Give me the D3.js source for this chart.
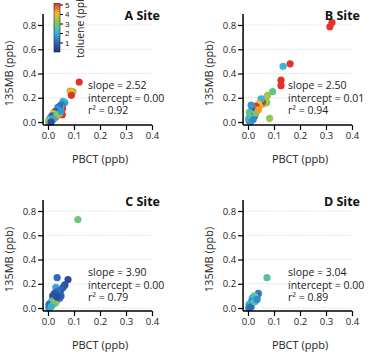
<!DOCTYPE html>
<html><head><meta charset="utf-8">
<script src="https://cdn.jsdelivr.net/npm/d3@7"></script>
<style>body{margin:0;background:#fff}svg{display:block}text{font-family:"Open Sans","Noto Sans",sans-serif}</style>
</head><body>
<svg id="c" width="370" height="353"></svg>
<script>
const sites = ["A Site","B Site","C Site","D Site"];
const slopes = ["2.52","2.50","3.90","3.04"];
const intercepts = ["0.00","0.01","0.00","0.00"];
const r2s = ["0.92","0.94","0.79","0.89"];
const xTicks = [0,0.1,0.2,0.3,0.4];
const yTicks = [0,0.2,0.4,0.6,0.8];
const cbTicks = [1,2,3,4,5];

// [PBCT, 135MB, toluene]
const dataA = [[0.120,0.33,5],[0.096,0.25,3.2],[0.085,0.255,4.2],[0.088,0.245,3.8],[0.090,0.22,5],[0.055,0.06,5],[0.056,0.11,5],
[0.065,0.16,1.8],[0.058,0.17,2],[0.055,0.15,1.5],[0.050,0.14,1.2],[0.048,0.12,3],[0.045,0.13,1],[0.042,0.11,0.8],[0.040,0.09,2.5],
[0.038,0.12,1.2],[0.035,0.10,1.8],[0.033,0.08,3.5],[0.030,0.09,1],[0.028,0.07,2.2],[0.026,0.06,3],[0.025,0.08,0.7],[0.022,0.05,1.5],
[0.020,0.07,4],[0.018,0.04,2],[0.016,0.05,1],[0.015,0.03,3],[0.012,0.04,0.8],[0.010,0.02,2.5],[0.008,0.03,1.3],[0.006,0.01,0.6],
[0.005,0.02,2],[0.004,0.00,1],[0.003,0.01,3],[0.030,0.04,4.5],[0.035,0.06,2.8],[0.045,0.07,3.2],[0.050,0.09,1.6],[0.020,0.02,1.8],[0.012,0.00,0.5]];
const dataB = [[0.323,0.82,5],[0.315,0.785,5],[0.162,0.48,5],[0.135,0.46,2],[0.127,0.345,5],[0.127,0.30,5],[0.095,0.25,2.6],[0.083,0.03,3.2],
[0.075,0.22,3.2],[0.070,0.20,3.4],[0.072,0.16,3],[0.065,0.18,3.3],[0.060,0.15,3.1],[0.055,0.165,5],[0.050,0.19,2],[0.045,0.13,3.5],
[0.040,0.15,4],[0.035,0.12,4.5],[0.030,0.13,5],[0.025,0.11,5],[0.022,0.09,5],[0.020,0.12,4.8],[0.018,0.08,1],[0.015,0.10,0.8],
[0.012,0.14,1.6],[0.010,0.06,1.2],[0.008,0.04,2.2],[0.006,0.02,1.8],[0.005,0.08,2.5],[0.004,0.01,1.5],[0.003,0.03,2],[0.025,0.05,0.6],
[0.030,0.07,2.8],[0.015,0.03,3],[0.040,0.10,4.2],[0.010,0.00,1.7],[0.020,0.02,1.4]];
const dataC = [[0.115,0.73,2.8],[0.077,0.235,0.5],[0.035,0.25,1.0],[0.030,0.17,1.8],[0.065,0.19,0.6],[0.058,0.17,0.7],[0.050,0.15,0.9],
[0.045,0.13,0.6],[0.040,0.12,0.5],[0.038,0.14,1.1],[0.030,0.11,0.5],[0.025,0.12,0.7],[0.022,0.09,0.8],[0.020,0.07,1.2],[0.018,0.10,0.6],
[0.015,0.06,1.5],[0.012,0.05,2.5],[0.010,0.04,3.0],[0.008,0.03,2.2],[0.006,0.02,1.8],[0.005,0.01,1.3],[0.003,0.00,1.6],[0.004,0.03,1.0],
[0.032,0.05,3.5],[0.028,0.04,3.2],[0.020,0.03,2.8],[0.045,0.08,1.2],[0.050,0.10,0.8],[0.035,0.09,0.5],[0.012,0.01,1.9]];
const dataD = [[0.073,0.25,2.5],[0.040,0.12,1.3],[0.035,0.10,1.0],[0.030,0.09,1.8],[0.028,0.08,2.2],[0.025,0.10,2.4],[0.022,0.07,1.5],
[0.020,0.09,2.8],[0.018,0.06,1.2],[0.016,0.08,2.0],[0.014,0.05,1.0],[0.012,0.04,1.6],[0.010,0.03,2.3],[0.008,0.02,1.4],[0.006,0.01,1.1],
[0.004,0.03,1.9],[0.003,0.00,1.2],[0.012,0.01,1.0],[0.025,0.05,2.6],[0.030,0.06,2.2],[0.035,0.07,1.4]];
const siteData = [dataA,dataB,dataC,dataD];

const colorStops = [0,1,2,3,4,5];
const colorVals = ["#27307a","#2d6bbd","#3cb6d6","#7ccb5f","#f0bb2a","#e5312b"];
const color = d3.scaleLinear().domain(colorStops).range(colorVals).clamp(true);

const svg = d3.select("#c");
const offsets = [[0,0],[200,0],[0,186],[200,186]];

siteData.forEach((data,i)=>{
  const [dx,dy] = offsets[i];
  const g = svg.append("g").attr("transform",`translate(${dx},${dy})`);
  const x = d3.scaleLinear().domain([0,0.4]).range([48,152]);
  const y = d3.scaleLinear().domain([0,0.8]).range([122,25]);
  g.selectAll(".grid").data(yTicks).join("line")
    .attr("x1",x(-0.019)).attr("x2",x(0.4)).attr("y1",d=>y(d)).attr("y2",d=>y(d))
    .attr("stroke","#c8c8c8").attr("stroke-width",0.8).attr("stroke-dasharray","1,1.5");
  g.selectAll("circle").data(data).join("circle")
    .attr("cx",d=>x(d[0])).attr("cy",d=>y(d[1])).attr("r",3.6)
    .attr("fill",d=>color(d[2]));
  const ya = g.append("g").attr("transform",`translate(${x(-0.019)},0)`)
    .call(d3.axisLeft(y).tickValues(yTicks).tickFormat(d3.format(".1f")).tickSize(5).tickPadding(2));
  ya.select(".domain").remove();
  g.append("line").attr("x1",x(-0.019)).attr("x2",x(-0.019)).attr("y1",y(-0.025)).attr("y2",y(0.89))
    .attr("stroke","#000").attr("stroke-width",1.5);
  const xa = g.append("g").attr("transform",`translate(0,${y(-0.025)})`)
    .call(d3.axisBottom(x).tickValues(xTicks).tickFormat(d3.format(".1f")).tickSize(5).tickPadding(2));
  xa.select(".domain").remove();
  g.append("line").attr("x1",x(-0.019)).attr("x2",x(0.4)).attr("y1",y(-0.025)).attr("y2",y(-0.025))
    .attr("stroke","#000").attr("stroke-width",1.5);
  [ya,xa].forEach(a=>{a.selectAll("text").attr("font-size",9.5).attr("fill","#222").style("font-family","'Open Sans',sans-serif");
    a.selectAll("line").attr("stroke","#000").attr("stroke-width",1.2);});
  g.append("text").attr("x",x(0.2)).attr("y",163).attr("text-anchor","middle").attr("font-size",11).attr("fill","#222").text("PBCT (ppb)");
  g.append("text").attr("transform",`translate(13,${y(0.4)}) rotate(-90)`).attr("text-anchor","middle").attr("font-size",11).attr("fill","#222").text("135MB (ppb)");
  g.append("text").attr("x",160).attr("y",20).attr("text-anchor","end").attr("font-size",12.5).attr("font-weight","bold").attr("fill","#111").text(sites[i]);
  const ann = g.append("g").attr("font-size",10.5).attr("fill","#222");
  const ax = 88, ay = i<2 ? 89 : 90;
  ann.append("text").attr("x",ax).attr("y",ay).text("slope = "+slopes[i]);
  ann.append("text").attr("x",ax).attr("y",ay+12.5).text("intercept = "+intercepts[i]);
  ann.append("text").attr("x",ax).attr("y",ay+25).text("r\u00B2 = "+r2s[i]);
});

// colorbar
const defs = svg.append("defs");
const grad = defs.append("linearGradient").attr("id","cb").attr("x1",0).attr("x2",0).attr("y1",1).attr("y2",0);
colorStops.forEach((s,k)=>grad.append("stop").attr("offset",s/5).attr("stop-color",colorVals[k]));
const cy = d3.scaleLinear().domain([0,5]).range([52,4.5]);
svg.append("rect").attr("x",54).attr("y",cy(5)-1).attr("width",6).attr("height",cy(0)-cy(5)+1)
  .attr("fill","url(#cb)").attr("stroke","#222").attr("stroke-width",0.6);
const cba = svg.append("g").attr("transform","translate(60,0)")
  .call(d3.axisRight(cy).tickValues(cbTicks).tickFormat(d3.format("d")).tickSize(3).tickPadding(2));
cba.select(".domain").remove();
cba.selectAll("text").attr("font-size",8).attr("fill","#222").style("font-family","'Liberation Sans',sans-serif");
cba.selectAll("line").attr("stroke","#000");
svg.append("text").attr("transform","translate(84,58) rotate(-90)").attr("text-anchor","start")
  .attr("font-size",10.5).attr("fill","#222").text("toluene (ppb)");
</script>
</body></html>
